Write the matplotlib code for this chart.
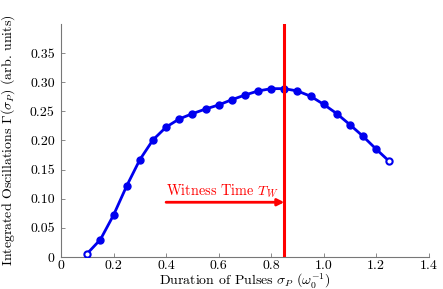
import numpy as np
import matplotlib
matplotlib.use("Agg")
import matplotlib.pyplot as plt

plt.rcParams['font.family'] = 'serif'
plt.rcParams['font.serif'] = ['cmr10']
plt.rcParams['mathtext.fontset'] = 'cm'
plt.rcParams['axes.formatter.use_mathtext'] = True

# pulse durations and integrated oscillations
sigma = [0.10, 0.15, 0.20, 0.25, 0.30, 0.35, 0.40, 0.45, 0.50, 0.55, 0.60, 0.65,
         0.70, 0.75, 0.80, 0.85, 0.90, 0.95, 1.00, 1.05, 1.10, 1.15, 1.20, 1.25]
gamma = [0.006, 0.030, 0.072, 0.122, 0.167, 0.201, 0.223, 0.237, 0.246, 0.254, 0.261, 0.270,
         0.278, 0.285, 0.289, 0.289, 0.285, 0.276, 0.262, 0.246, 0.227, 0.207, 0.185, 0.164]
t_witness = 0.85
arrow_start = 0.40
arrow_y = 0.094

xticks = [0, 0.2, 0.4, 0.6, 0.8, 1.0, 1.2, 1.4]
xticklabels = ['0', '0.2', '0.4', '0.6', '0.8', '1.0', '1.2', '1.4']
yticks = [0, 0.05, 0.10, 0.15, 0.20, 0.25, 0.30, 0.35]
yticklabels = ['0', '0.05', '0.10', '0.15', '0.20', '0.25', '0.30', '0.35']

fig = plt.figure(figsize=(4.43, 2.89), dpi=100)
ax = fig.add_axes([0.1377, 0.1107, 0.8303, 0.8063])

ax.plot(sigma, gamma, color='#0000ee', lw=2.0, zorder=3)
ax.plot(sigma[1:-1], gamma[1:-1], 'o', color='#0000ee', ms=5, zorder=4)
ax.plot([sigma[0], sigma[-1]], [gamma[0], gamma[-1]], 'o', mfc='white', mec='#0000ee',
        mew=1.5, ms=4.5, zorder=4)

ax.axvline(t_witness, color='red', lw=2.2, zorder=5)
ax.annotate('', xy=(t_witness, arrow_y), xytext=(arrow_start, arrow_y),
            arrowprops=dict(arrowstyle='-|>', color='red', lw=2, mutation_scale=10,
                            shrinkA=0, shrinkB=0), zorder=5)
ax.text(arrow_start, arrow_y + 0.004, r'Witness Time $T_W$', color='red', fontsize=10.3,
        ha='left', va='bottom')

ax.set_xlim(0, 1.4)
ax.set_ylim(0, 0.4)
ax.set_xticks(xticks)
ax.set_xticklabels(xticklabels)
ax.set_yticks(yticks)
ax.set_yticklabels(yticklabels)
ax.tick_params(direction='in', length=3, width=0.6, color='#777777', labelsize=10)
ax.tick_params(axis='y', pad=4.5)
ax.tick_params(axis='x', pad=2)

for s in ['top', 'right']:
    ax.spines[s].set_visible(False)
for s in ['left', 'bottom']:
    ax.spines[s].set_color('#777777')
    ax.spines[s].set_linewidth(0.8)

ax.set_xlabel(r'Duration of Pulses $\sigma_P$ $(\omega_0^{-1})$', fontsize=10, labelpad=-0.3)
ax.set_ylabel(r'Integrated Oscillations $\Gamma(\sigma_P)$ (arb. units)', fontsize=10, labelpad=9)

fig.savefig('out.png', dpi=100)
